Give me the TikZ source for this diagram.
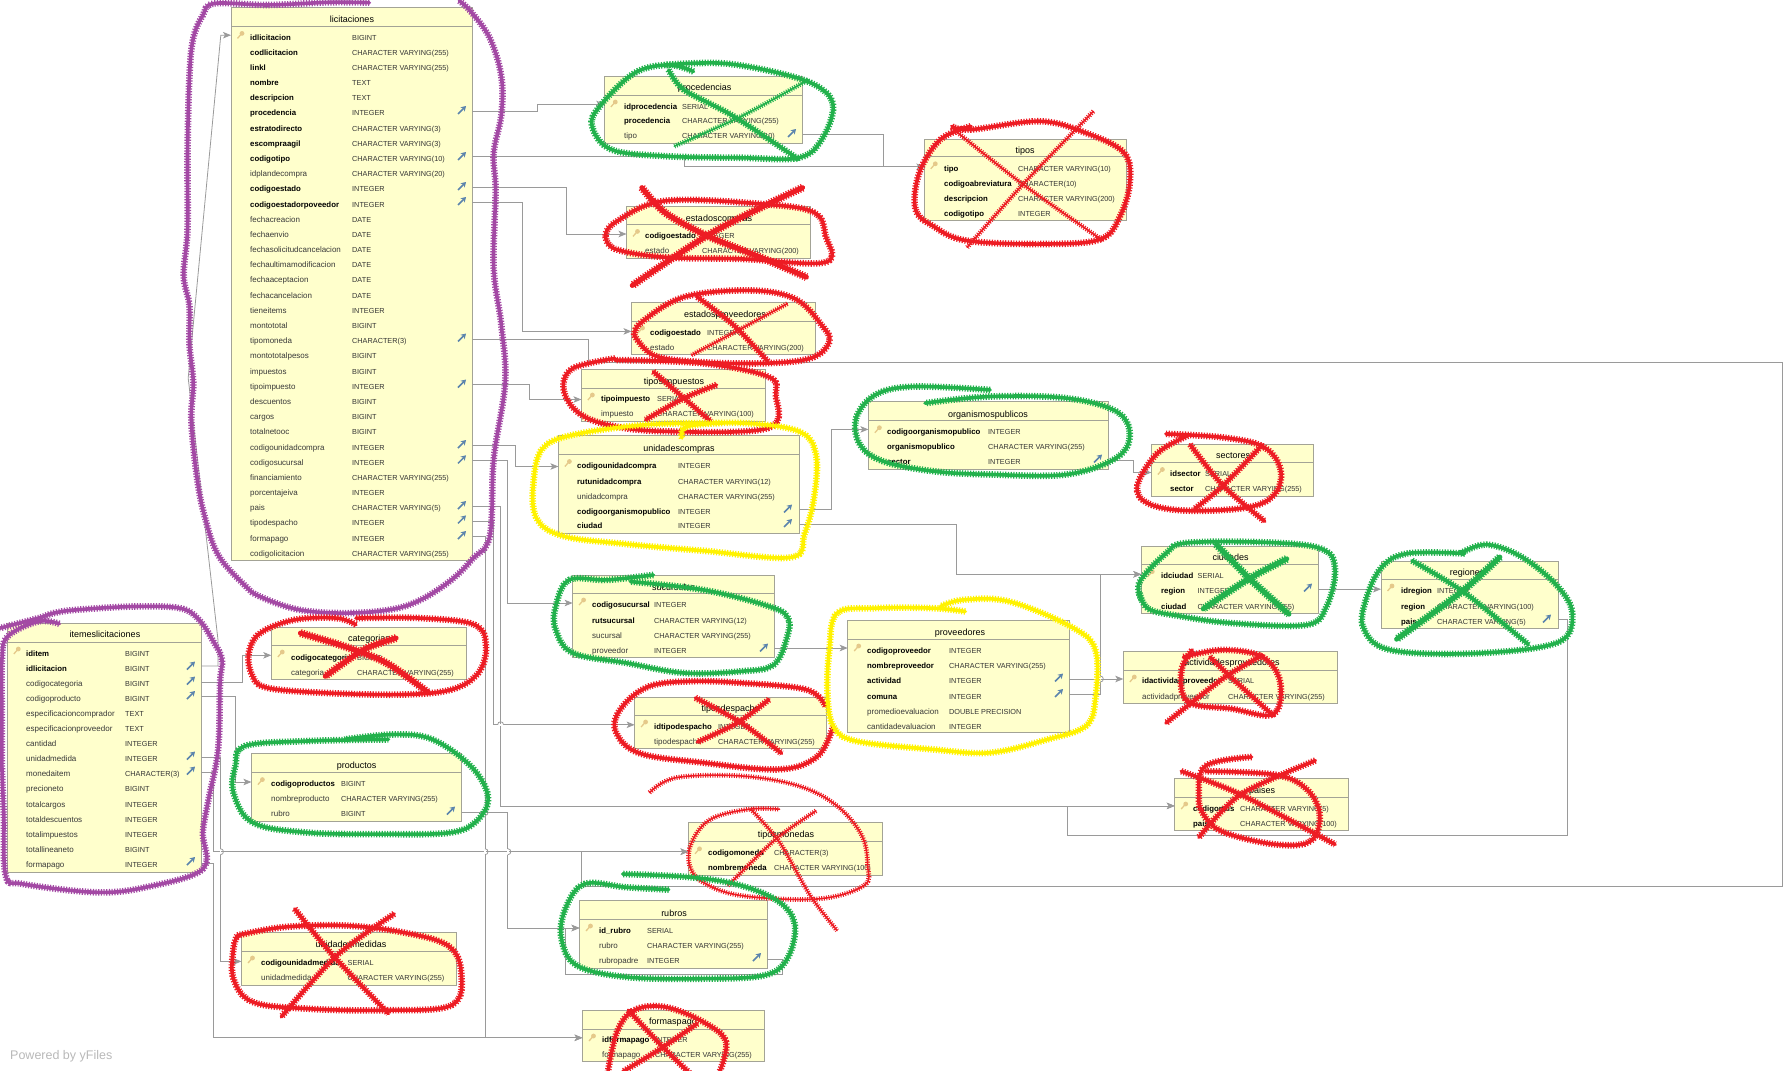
\documentclass[tikz,border=0pt]{standalone}
\usepackage{fontspec}
\setmainfont{Liberation Sans}
\usetikzlibrary{arrows.meta}
\definecolor{tblfill}{HTML}{FFFFCC}
\definecolor{tbledge}{HTML}{A3A396}
\definecolor{lnk}{HTML}{9A9A9A}
\definecolor{keyc}{HTML}{E5C98A}
\definecolor{icoc}{HTML}{5B84AD}
\definecolor{pur}{HTML}{A349A4}
\definecolor{redd}{HTML}{ED1C24}
\definecolor{grn}{HTML}{22B14C}
\definecolor{yel}{HTML}{FFF200}
\newcounter{nc}
\def\nx{0}\def\tx{0}
\newcommand{\tbl}[9]{%
  \pgfmathsetmacro\tblw{#4-#2}\pgfmathsetmacro\tblh{#5-#3}%
  \node[tblbox,minimum width=\tblw pt,minimum height=\tblh pt,anchor=north west] (#1) at (#2,#3) {};
  \draw[tbledge,line width=.8pt] (#1.west |- 0,#6) -- (#1.east |- 0,#6);
  \node[ttl] (#1t) at (#8,#9+4) {#7};
  \draw[keyc,line width=1.3pt] (#2+6.5,#6+12) -- (#2+10,#6+8);
  \fill[keyc] (#2+11,#6+7) circle (2.4pt);
}
\newcommand{\kr}[3]{\stepcounter{nc}%
  \node[keyname] (a\arabic{nc}) at (\nx,#1+3.3) {#2};
  \node[typ] (b\arabic{nc}) at (\tx,#1+3.3) {#3};}
\newcommand{\nr}[3]{\stepcounter{nc}%
  \node[plainname] (a\arabic{nc}) at (\nx,#1+3.3) {#2};
  \node[typ] (b\arabic{nc}) at (\tx,#1+3.3) {#3};}
\newcommand{\ic}[2]{\draw[icoc,line width=1.5pt,-{Stealth[length=5pt,width=6pt]}] (#1-4,#2+2) -- (#1+4,#2-6);}
\newcommand{\hhop}[2]{\draw[white,line width=1.6pt] (#1-3,#2) -- (#1+3,#2);
  \draw[lnk,line width=.8pt] (#1-3,#2) .. controls (#1-3,#2-4) and (#1+3,#2-4) .. (#1+3,#2);}
\newcommand{\vhop}[2]{\draw[white,line width=1.6pt] (#1,#2-3) -- (#1,#2+3);
  \draw[lnk,line width=.8pt] (#1,#2-3) .. controls (#1+4,#2-3) and (#1+4,#2+3) .. (#1,#2+3);}
\tikzset{
  tblbox/.style={draw=tbledge,fill=tblfill,line width=.8pt,inner sep=0pt,outer sep=0pt},
  ttl/.style={inner sep=0pt,anchor=base,font=\fontsize{9}{10}\selectfont,text=black},
  keyname/.style={inner sep=0pt,anchor=base west,font=\fontsize{7.8}{9}\selectfont\bfseries,text=black},
  plainname/.style={inner sep=0pt,anchor=base west,font=\fontsize{8}{9}\selectfont,text=black!78},
  typ/.style={inner sep=0pt,anchor=base west,font=\fontsize{7.3}{9}\selectfont,text=black!80},
  fk/.style={lnk,line width=.8pt,line join=miter},
  fka/.style={fk,-{Stealth[length=8pt,width=6.5pt,inset=2pt]}},
  scr/.style={line width=3.6pt,line cap=round,line join=round,postaction={draw,line cap=butt,line width=6.6pt,dash pattern=on 1.2pt off 1.5pt}},
  thk/.style={line width=5pt,line cap=round,line join=round,postaction={draw,line cap=butt,line width=8pt,dash pattern=on 1.2pt off 1.5pt}},
  thn/.style={line width=1.6pt,line cap=round,line join=round,postaction={draw,line cap=butt,line width=4.8pt,dash pattern=on 1pt off 1.4pt}},
  zA/.style={x=.3827pt,y=-.3827pt},
  zB/.style={x=.3827pt,y=-.3323pt,shift={(0pt,-550pt)}},
  zC/.style={x=.3827pt,y=-.3316pt,shift={(550pt,-50pt)}},
  zD/.style={x=.3827pt,y=-.3323pt,shift={(550pt,-550pt)}},
  zE/.style={x=.4394pt,y=-.357pt,shift={(1100pt,-350pt)}},
}
\begin{document}
\begin{tikzpicture}[x=1pt,y=-1pt]
\useasboundingbox (0,0) rectangle (1789,1071);
\clip (0,0) rectangle (1789,1071);

% ---------- table boxes first, so that connectors can refer to them
\tbl{lic}{231}{7}{472}{560}{26.4}{licitaciones}{352}{18}
\def\nx{250}\def\tx{352}
\kr{37.1}{idlicitacion}{BIGINT}
\kr{52}{codlicitacion}{CHARACTER VARYING(255)}
\kr{67}{linkl}{CHARACTER VARYING(255)}
\kr{82.3}{nombre}{TEXT}
\kr{97.2}{descripcion}{TEXT}
\kr{112.5}{procedencia}{INTEGER}
\kr{128.2}{estratodirecto}{CHARACTER VARYING(3)}
\kr{143.5}{escompraagil}{CHARACTER VARYING(3)}
\kr{158.4}{codigotipo}{CHARACTER VARYING(10)}
\nr{173.4}{idplandecompra}{CHARACTER VARYING(20)}
\kr{188.3}{codigoestado}{INTEGER}
\kr{204.4}{codigoestadorpoveedor}{INTEGER}
\nr{219.3}{fechacreacion}{DATE}
\nr{234.2}{fechaenvio}{DATE}
\nr{249}{fechasolicitudcancelacion}{DATE}
\nr{264}{fechaultimamodificacion}{DATE}
\nr{279.4}{fechaaceptacion}{DATE}
\nr{295}{fechacancelacion}{DATE}
\nr{310.4}{tieneitems}{INTEGER}
\nr{325.3}{montototal}{BIGINT}
\nr{340.2}{tipomoneda}{CHARACTER(3)}
\nr{355.5}{montototalpesos}{BIGINT}
\nr{371.2}{impuestos}{BIGINT}
\nr{386.5}{tipoimpuesto}{INTEGER}
\nr{401.4}{descuentos}{BIGINT}
\nr{416.4}{cargos}{BIGINT}
\nr{431.3}{totalnetooc}{BIGINT}
\nr{447}{codigounidadcompra}{INTEGER}
\nr{462.3}{codigosucursal}{INTEGER}
\nr{477.2}{financiamiento}{CHARACTER VARYING(255)}
\nr{492.5}{porcentajeiva}{INTEGER}
\nr{507.5}{pais}{CHARACTER VARYING(5)}
\nr{522.4}{tipodespacho}{INTEGER}
\nr{538}{formapago}{INTEGER}
\nr{553}{codigolicitacion}{CHARACTER VARYING(255)}
\foreach \yy in {112,158,188,203,339.5,385.5,446,461.3,507,521.4,537}{\ic{462}{\yy}}

\tbl{itm}{7.3}{623}{201}{872.3}{642}{itemeslicitaciones}{105}{633.4}
\def\nx{26}\def\tx{125}
\kr{653}{iditem}{BIGINT}
\kr{668}{idlicitacion}{BIGINT}
\nr{683}{codigocategoria}{BIGINT}
\nr{698}{codigoproducto}{BIGINT}
\nr{713.5}{especificacioncomprador}{TEXT}
\nr{728.5}{especificacionproveedor}{TEXT}
\nr{743.4}{cantidad}{INTEGER}
\nr{758.4}{unidadmedida}{INTEGER}
\nr{773.3}{monedaitem}{CHARACTER(3)}
\nr{788.3}{precioneto}{BIGINT}
\nr{804.2}{totalcargos}{INTEGER}
\nr{819}{totaldescuentos}{INTEGER}
\nr{834}{totalimpuestos}{INTEGER}
\nr{849}{totallineaneto}{BIGINT}
\nr{864}{formapago}{INTEGER}
\foreach \yy in {667.5,682.5,697,757.5,772.5,863}{\ic{191}{\yy}}

\tbl{cat}{271.3}{627.4}{466.5}{679}{645}{categorias}{369}{637.7}
\def\nx{291}\def\tx{357}
\kr{657}{codigocategoria}{BIGINT}
\nr{672}{categoria}{CHARACTER VARYING(255)}

\tbl{pro}{251.4}{753.7}{461.5}{821.5}{772.6}{productos}{356.7}{764.3}
\def\nx{271}\def\tx{341}
\kr{783.6}{codigoproductos}{BIGINT}
\nr{798.6}{nombreproducto}{CHARACTER VARYING(255)}
\nr{813.5}{rubro}{BIGINT}
\ic{451}{812.5}

\tbl{umd}{241.5}{932}{456.5}{985}{951}{unidadesmedidas}{351}{943.4}
\def\nx{261}\def\tx{347.5}
\kr{962}{codigounidadmedida}{SERIAL}
\nr{977}{unidadmedida}{CHARACTER VARYING(255)}

\tbl{prc}{604.3}{76}{802.6}{143.8}{95}{procedencias}{704.6}{86.5}
\def\nx{624}\def\tx{682}
\kr{105.7}{idprocedencia}{SERIAL}
\kr{120.6}{procedencia}{CHARACTER VARYING(255)}
\nr{135.6}{tipo}{CHARACTER VARYING(10)}
\ic{792}{135}

\tbl{tip}{924.3}{138.9}{1126.7}{220.8}{156.8}{tipos}{1025}{149.5}
\def\nx{944}\def\tx{1018}
\kr{167.7}{tipo}{CHARACTER VARYING(10)}
\kr{183.3}{codigoabreviatura}{CHARACTER(10)}
\kr{198.2}{descripcion}{CHARACTER VARYING(200)}
\kr{213.2}{codigotipo}{INTEGER}

\tbl{esc}{626.5}{205.9}{810.6}{258.2}{224.4}{estadoscompras}{719}{217}
\def\nx{645}\def\tx{702}
\kr{235}{codigoestado}{INTEGER}
\nr{250}{estado}{CHARACTER VARYING(200)}

\tbl{esp}{631.5}{302}{815.6}{354.7}{321}{estadosproveedores}{725}{313.6}
\def\nx{650}\def\tx{707}
\kr{331.9}{codigoestado}{INTEGER}
\nr{346.8}{estado}{CHARACTER VARYING(200)}

\tbl{imp}{581.4}{369}{765.5}{421.4}{388}{tiposimpuestos}{674}{380}
\def\nx{601}\def\tx{657}
\kr{398.5}{tipoimpuesto}{SERIAL}
\nr{413.4}{impuesto}{CHARACTER VARYING(100)}

\tbl{uco}{558.4}{435.5}{799.5}{533.8}{454.5}{unidadescompras}{679}{447}
\def\nx{577}\def\tx{678}
\kr{465}{codigounidadcompra}{INTEGER}
\kr{481}{rutunidadcompra}{CHARACTER VARYING(12)}
\nr{496}{unidadcompra}{CHARACTER VARYING(255)}
\kr{511}{codigoorganismopublico}{INTEGER}
\kr{525.5}{ciudad}{INTEGER}
\ic{788}{510.5}\ic{788}{525}

\tbl{org}{868.4}{401.5}{1108.7}{469}{420.7}{organismospublicos}{988}{413}
\def\nx{887}\def\tx{988}
\kr{431.3}{codigoorganismopublico}{INTEGER}
\kr{446.3}{organismopublico}{CHARACTER VARYING(255)}
\kr{461}{sector}{INTEGER}
\ic{1098}{460.5}

\tbl{sec}{1151.4}{444.6}{1313.5}{496.4}{462.5}{sectores}{1233}{454.6}
\def\nx{1170}\def\tx{1205}
\kr{473}{idsector}{SERIAL}
\kr{488}{sector}{CHARACTER VARYING(255)}

\tbl{ciu}{1141.3}{546.4}{1318.4}{613.5}{564.6}{ciudades}{1230.5}{556.7}
\def\nx{1161}\def\tx{1197.5}
\kr{575}{idciudad}{SERIAL}
\kr{590}{region}{INTEGER}
\kr{606}{ciudad}{CHARACTER VARYING(255)}
\ic{1308}{589.5}

\tbl{reg}{1381}{561.3}{1558.3}{628}{579}{regiones}{1467}{571.7}
\def\nx{1401}\def\tx{1437}
\kr{590}{idregion}{INTEGER}
\kr{606}{region}{CHARACTER VARYING(100)}
\kr{621.3}{pais}{CHARACTER VARYING(5)}
\ic{1547}{620.5}

\tbl{act}{1123.3}{651.7}{1337.3}{703}{670}{actividadesproveedores}{1232}{661.7}
\def\nx{1142}\def\tx{1228}
\kr{680.2}{idactividadproveedor}{SERIAL}
\nr{696}{actividadproveedor}{CHARACTER VARYING(255)}

\tbl{pai}{1174.7}{778.4}{1348.3}{830}{797}{paises}{1262}{789}
\def\nx{1193}\def\tx{1240}
\kr{808}{codigopais}{CHARACTER VARYING(5)}
\kr{823}{pais}{CHARACTER VARYING(100)}

\tbl{suc}{572.6}{575}{774.3}{657}{593}{sucursales}{673.6}{586}
\def\nx{592}\def\tx{654}
\kr{604}{codigosucursal}{INTEGER}
\kr{620}{rutsucursal}{CHARACTER VARYING(12)}
\nr{635}{sucursal}{CHARACTER VARYING(255)}
\nr{650}{proveedor}{INTEGER}
\ic{764}{649.5}

\tbl{des}{634.6}{697}{826.3}{748.7}{715}{tiposdespacho}{730.6}{707.5}
\def\nx{654}\def\tx{718}
\kr{725.8}{idtipodespacho}{INTEGER}
\nr{741.4}{tipodespacho}{CHARACTER VARYING(255)}

\tbl{prv}{847.7}{620}{1069.3}{732.8}{639}{proveedores}{960}{631.7}
\def\nx{867}\def\tx{949}
\kr{650}{codigoproveedor}{INTEGER}
\kr{665}{nombreproveedor}{CHARACTER VARYING(255)}
\kr{680}{actividad}{INTEGER}
\kr{696}{comuna}{INTEGER}
\nr{711}{promedioevaluacion}{DOUBLE PRECISION}
\nr{725.8}{cantidadevaluacion}{INTEGER}
\ic{1059}{679.5}\ic{1059}{695}

\tbl{mon}{688.5}{822.5}{882.5}{875.3}{841.8}{tiposmonedas}{786}{833.8}
\def\nx{708}\def\tx{774}
\kr{852.4}{codigomoneda}{CHARACTER(3)}
\kr{867.3}{nombremoneda}{CHARACTER VARYING(100)}

\tbl{rub}{579.5}{900}{767.4}{968}{919}{rubros}{674}{912}
\def\nx{599}\def\tx{647}
\kr{930}{id\_rubro}{SERIAL}
\nr{944.8}{rubro}{CHARACTER VARYING(255)}
\nr{959.7}{rubropadre}{INTEGER}
\ic{757}{959}

\tbl{fpg}{582.5}{1010}{764.7}{1061.7}{1029}{formaspago}{673}{1020.5}
\def\nx{602}\def\tx{655}
\kr{1039.5}{idformapago}{INTEGER}
\nr{1054.4}{formapago}{CHARACTER VARYING(255)}

% ---------- connectors
\draw[fka] (lic.east |- 0,111) -- (537,111) -- (537,104) -- (prc.west |- 0,104);
\draw[fka] (lic.east |- 0,156) -- (684,156) -- (684,166.7) -- (tip.west |- 0,166.7);
\draw[fk] (prc.east |- 0,134) -- (883.3,134) -- (883.3,166.7);
\draw[fka] (lic.east |- 0,187.5) -- (566.4,187.5) -- (566.4,234) -- (esc.west |- 0,234);
\draw[fka] (lic.east |- 0,202) -- (522.4,202) -- (522.4,331.4) -- (esp.west |- 0,331.4);
\draw[fka] (lic.east |- 0,339.4) -- (588.4,339.4) -- (588.4,362.5) -- (1782,362.5) -- (1782,886.4) -- (581.5,886.4) -- (581.5,851.7) -- (mon.west |- 0,851.7);
\draw[fka] (lic.east |- 0,384.6) -- (529.6,384.6) -- (529.6,399.5) -- (imp.west |- 0,399.5);
\draw[fka] (lic.east |- 0,445) -- (515,445) -- (515,466.5) -- (uco.west |- 0,466.5);
\draw[fka] (lic.east |- 0,460.4) -- (507.4,460.4) -- (507.4,603) -- (suc.west |- 0,603);
\draw[fka] (lic.east |- 0,506) -- (500.6,506) -- (500.6,805.9) -- (pai.west |- 0,805.9);
\draw[fka] (lic.east |- 0,520.9) -- (493,520.9) -- (493,724.8) -- (des.west |- 0,724.8);
\draw[fka] (lic.east |- 0,536.5) -- (485,536.5) -- (485,1037.8) -- (fpg.west |- 0,1037.8);
\draw[fka] (itm.east |- 0,666) -- (218,666) -- (218,640) -- (188.2,378) -- (220.8,35.2) -- (lic.west |- 0,35.2);
\draw[fka] (itm.east |- 0,682) -- (242,682) -- (242,655.3) -- (cat.west |- 0,655.3);
\draw[fka] (itm.east |- 0,696.5) -- (235.3,696.5) -- (235.3,782) -- (pro.west |- 0,782);
\draw[fka] (itm.east |- 0,757.7) -- (220.4,757.7) -- (220.4,961.4) -- (umd.west |- 0,961.4);
\draw[fka] (itm.east |- 0,772.6) -- (213.5,772.6) -- (213.5,851.7) -- (mon.west |- 0,851.7);
\draw[fka] (itm.east |- 0,863) -- (213.5,863) -- (213.5,1037.8) -- (fpg.west |- 0,1037.8);
\draw[fka] (pro.east |- 0,812.5) -- (507.8,812.5) -- (507.8,928) -- (rub.west |- 0,928);
\draw[fka] (uco.east |- 0,509) -- (831.7,509) -- (831.7,429.4) -- (org.west |- 0,429.4);
\draw[fka] (uco.east |- 0,524.2) -- (956.4,524.2) -- (956.4,574.3) -- (ciu.west |- 0,574.3);
\draw[fka] (org.east |- 0,460.2) -- (1133,460.2) -- (1133,472.5) -- (sec.west |- 0,472.5);
\draw[fka] (suc.east |- 0,648) -- (prv.west |- 0,648);
\draw[fka] (prv.east |- 0,679) -- (act.west |- 0,679);
\draw[fka] (prv.east |- 0,693.9) -- (1100.3,693.9) -- (1100.3,574.3) -- (ciu.west |- 0,574.3);
\draw[fka] (ciu.east |- 0,589.2) -- (reg.west |- 0,589.2);
\draw[fka] (reg.east |- 0,619.5) -- (1567.5,619.5) -- (1567.5,835) -- (1067.4,835) -- (1067.4,805.9) -- (pai.west |- 0,805.9);
\draw[fka] (rub.east |- 0,959.4) -- (782.3,959.4) -- (782.3,974.7) -- (565.3,974.7) -- (565.3,928) -- (rub.west |- 0,928);
\hhop{500.6}{724.8}
\vhop{220.4}{851.7}
\vhop{485}{851.7}
\vhop{507.8}{851.7}
\vhop{485}{812.5}
\vhop{1100.3}{679}

\node[inner sep=0pt,anchor=base west,font=\fontsize{12.5}{14}\selectfont,text=black!28] (wm) at (10,1059) {Powered by yFiles};

% ---------- hand-drawn marks
\begin{scope}[zA]
\draw[scr,pur] plot[smooth,tension=.6] coordinates {(965,7)(860,6)(700,13)(560,9)(530,40)(505,100)(495,200)(490,400)(490,600)(480,720)(495,800)(495,900)(505,1000)(500,1100)(515,1250)(535,1350)(570,1450)(640,1530)(680,1559)(780,1593)(900,1602)(1020,1593)(1100,1567)(1180,1515)(1235,1460)(1280,1400)(1290,1200)(1320,1000)(1310,850)(1290,700)(1295,500)(1290,400)(1310,300)(1310,200)(1280,100)(1230,30)(1200,2)};
\end{scope}
\begin{scope}[zB]
\draw[scr,pur] plot[smooth,tension=.6] coordinates {(155,222)(100,215)(20,260)(5,330)(5,500)(5,650)(10,800)(15,980)(60,1005)(250,1030)(380,1015)(530,960)(530,850)(545,750)(570,600)(575,400)(580,330)(560,280)(520,210)(470,175)(350,170)(200,180)(140,190)(100,205)(0,235)};
\draw[scr,redd] plot[smooth,tension=.6] coordinates {(930,225)(880,205)(770,210)(680,250)(650,310)(660,380)(700,415)(850,430)(1050,435)(1180,420)(1250,370)(1270,290)(1240,225)(1100,205)(930,205)};
\draw[thk,redd] plot[smooth] coordinates {(785,250)(900,290)(1010,340)(1120,430)};
\draw[thk,redd] plot[smooth] coordinates {(1035,265)(950,300)(850,380)};
\draw[scr,grn] plot[smooth,tension=.6] coordinates {(1015,570)(800,575)(640,590)(615,650)(610,730)(660,820)(800,850)(1000,855)(1180,850)(1250,810)(1275,740)(1230,650)(1130,570)(1030,555)(900,570)};
\draw[scr,redd] plot[smooth,tension=.6] coordinates {(620,1160)(740,1135)(900,1130)(1050,1150)(1170,1190)(1205,1270)(1180,1370)(1000,1385)(800,1380)(660,1360)(610,1290)(610,1200)(620,1160)};
\draw[scr,redd] plot[smooth] coordinates {(770,1080)(870,1220)(1015,1395)};
\draw[scr,redd] plot[smooth] coordinates {(1030,1095)(880,1220)(735,1405)};
\end{scope}
\begin{scope}[zC]
\draw[scr,grn] plot[smooth,tension=.6] coordinates {(375,65)(310,45)(220,70)(130,170)(110,230)(160,300)(300,320)(500,325)(650,325)(710,270)(740,170)(700,110)(600,70)(450,40)(300,45)};
\draw[scr,grn] plot[smooth] coordinates {(310,60)(350,120)(480,200)(650,330)};
\draw[thn,grn] plot[smooth] coordinates {(675,90)(500,200)(325,290)};
\draw[scr,redd] plot[smooth,tension=.6] coordinates {(1050,230)(1100,240)(1280,215)(1400,250)(1500,310)(1515,400)(1490,500)(1440,570)(1300,585)(1090,575)(1000,530)(955,480)(965,370)(1020,270)(1100,230)};
\draw[thn,redd] plot[smooth] coordinates {(1050,235)(1230,400)(1445,575)};
\draw[thn,redd] plot[smooth] coordinates {(1420,185)(1240,400)(1090,595)};
\draw[scr,redd] plot[smooth,tension=.6] coordinates {(145,560)(170,520)(300,455)(560,465)(690,490)(720,560)(720,640)(500,630)(300,625)(170,600)(145,560)};
\draw[thk,redd] plot[smooth] coordinates {(240,415)(300,490)(410,560)(560,630)(670,685)};
\draw[thk,redd] plot[smooth] coordinates {(660,415)(560,470)(410,560)(215,710)};
\draw[scr,redd] plot[smooth,tension=.6] coordinates {(220,860)(240,820)(350,745)(520,725)(640,750)(710,830)(730,880)(680,930)(550,945)(380,940)(270,920)(220,860)};
\draw[scr,redd] plot[smooth] coordinates {(385,745)(480,830)(570,940)};
\draw[thn,redd] plot[smooth] coordinates {(620,765)(500,840)(370,920)};
\draw[scr,redd] plot[smooth,tension=.6] coordinates {(170,930)(60,960)(35,1020)(70,1090)(150,1130)(300,1150)(570,1140)(590,1040)(570,985)(400,945)(170,935)};
\draw[scr,redd] plot[smooth] coordinates {(270,970)(350,1050)(420,1120)};
\draw[scr,redd] plot[smooth] coordinates {(435,1010)(350,1050)(250,1115)};
\draw[scr,yel] plot[smooth,tension=.6] coordinates {(345,1170)(360,1135)(500,1125)(650,1150)(695,1220)(690,1350)(665,1460)(630,1530)(400,1510)(200,1490)(32,1465)(-37,1408)(-42,1291)(-18,1200)(63,1160)(250,1130)(450,1125)};
\draw[scr,grn] plot[smooth,tension=.6] coordinates {(1150,1025)(950,1015)(850,1040)(800,1110)(810,1190)(870,1240)(1000,1270)(1150,1280)(1350,1280)(1480,1230)(1515,1160)(1480,1090)(1350,1050)(1150,1045)(980,1065)};
\end{scope}
\begin{scope}[zD]
\draw[scr,grn] plot[smooth,tension=.6] coordinates {(270,75)(150,90)(50,90)(15,170)(15,240)(60,310)(200,340)(350,370)(500,365)(585,345)(620,260)(620,200)(560,165)(400,120)(210,95)};
\draw[scr,redd] plot[smooth,tension=.6] coordinates {(720,470)(670,420)(500,400)(370,395)(260,410)(190,470)(170,540)(230,610)(400,640)(600,660)(700,620)(740,530)};
\draw[scr,redd] plot[smooth] coordinates {(380,445)(500,520)(605,612)};
\draw[scr,redd] plot[smooth] coordinates {(572,450)(490,520)(385,578)};
\draw[scr,yel] plot[smooth,tension=.6] coordinates {(1085,185)(1000,175)(850,175)(750,190)(730,300)(725,430)(740,530)(800,575)(1000,600)(1150,610)(1300,570)(1400,530)(1425,450)(1425,300)(1360,230)(1200,155)(1080,150)(1020,170)};
\draw[thn,redd] plot[smooth,tension=.6] coordinates {(260,730)(330,685)(500,680)(650,710)(750,770)(815,860)(830,950)(820,1010)(700,1050)(500,1040)(400,1000)(365,950)(370,880)(420,810)(520,780)(600,780)};
\draw[thn,redd] plot[smooth] coordinates {(525,780)(600,880)(680,1040)(750,1145)};
\draw[thn,redd] plot[smooth] coordinates {(695,785)(590,870)(465,1010)};
\draw[scr,grn] plot[smooth,tension=.6] coordinates {(310,1022)(200,1015)(90,1005)(40,1080)(30,1170)(70,1250)(200,1285)(400,1290)(560,1280)(620,1230)(640,1130)(600,1060)(500,1010)(370,985)(190,975)};
\draw[scr,redd] plot[smooth,tension=.6] coordinates {(150,1580)(175,1450)(220,1385)(300,1375)(400,1420)(460,1480)(440,1580)};
\draw[scr,redd] plot[smooth] coordinates {(205,1385)(290,1490)(370,1580)};
\draw[scr,redd] plot[smooth] coordinates {(385,1425)(290,1500)(190,1570)};
\end{scope}
\begin{scope}[zE]
\draw[scr,redd] plot[smooth,tension=.6] coordinates {(150,235)(280,245)(370,270)(410,330)(400,400)(340,440)(200,450)(110,430)(85,380)(130,290)(200,240)};
\draw[scr,redd] plot[smooth] coordinates {(205,265)(280,380)(375,480)};
\draw[scr,redd] plot[smooth] coordinates {(370,265)(280,380)(215,445)};
\draw[scr,grn] plot[smooth,tension=.6] coordinates {(95,700)(90,650)(150,570)(200,540)(400,540)(510,560)(535,620)(515,720)(470,770)(300,765)(180,745)(110,725)(90,680)};
\draw[thk,grn] plot[smooth] coordinates {(265,545)(340,640)(430,740)};
\draw[thk,grn] plot[smooth] coordinates {(425,585)(340,640)(235,725)};
\draw[scr,grn] plot[smooth,tension=.6] coordinates {(830,570)(700,570)(640,610)(605,700)(600,780)(660,840)(850,850)(1040,820)(1075,740)(1040,660)(960,580)(880,545)(820,570)};
\draw[scr,grn] plot[smooth] coordinates {(710,590)(830,680)(975,825)};
\draw[thk,grn] plot[smooth] coordinates {(910,580)(820,680)(675,810)};
\draw[scr,redd] plot[smooth,tension=.6] coordinates {(190,860)(280,840)(370,860)(410,930)(395,1020)(300,1005)(200,985)(185,900)(210,840)};
\draw[scr,redd] plot[smooth] coordinates {(250,860)(310,930)(395,1025)};
\draw[scr,redd] plot[smooth] coordinates {(370,855)(280,920)(150,1045)};
\draw[scr,redd] plot[smooth,tension=.6] coordinates {(345,1140)(240,1165)(225,1250)(235,1300)(280,1350)(400,1385)(480,1375)(500,1300)(470,1230)(400,1190)(240,1180)};
\draw[scr,redd] plot[smooth] coordinates {(185,1180)(320,1245)(535,1385)};
\draw[scr,redd] plot[smooth] coordinates {(490,1150)(320,1245)(225,1365)};
\end{scope}
\end{tikzpicture}
\end{document}
